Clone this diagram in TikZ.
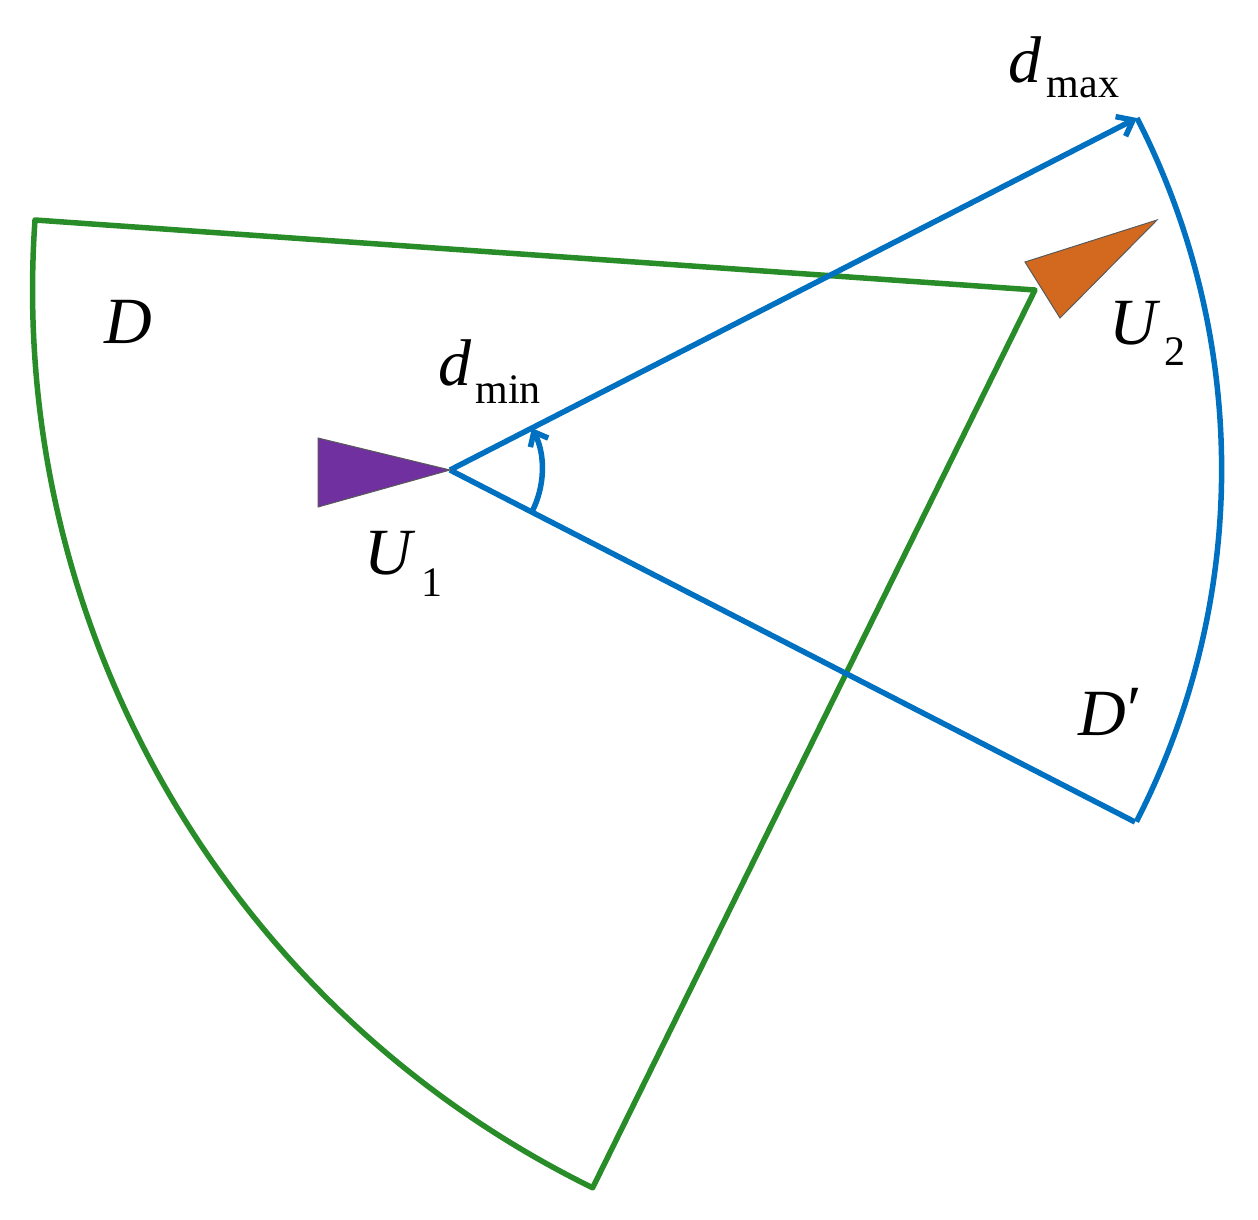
\documentclass[tikz,border=0pt]{standalone}
\usepackage{fontspec}
\setmainfont{Liberation Serif}
\usetikzlibrary{arrows.meta}
\definecolor{sectgreen}{RGB}{40,140,40}
\definecolor{sectblue}{RGB}{0,112,192}
\definecolor{uavpurple}{RGB}{112,48,160}
\definecolor{uavorange}{RGB}{210,105,30}
\tikzset{
  lbl/.style={font=\fontsize{66}{66}\selectfont\itshape},
  sub/.style={font=\fontsize{42}{42}\selectfont},
}
\begin{document}
\begin{tikzpicture}[x=1pt,y=1pt,yscale=-1,xscale=1]
\useasboundingbox (0,0) rectangle (1258,1219);

% sector D
\coordinate (Dapex) at (1035,290);
\draw [sectgreen, line width=5.5pt, line join=round] (Dapex) -- (35,220) arc [start angle=-176, end angle=-243.9, radius=1000] -- cycle;

% sector D'
\coordinate (Uone) at (450,470);
\coordinate (Dtop) at (1137,118);
\coordinate (Dbot) at (1135,822);
\draw [sectblue, line width=5.5pt] (Dbot) -- (Uone);
\draw [sectblue, line width=5.5pt, -{Straight Barb[length=14pt,width=22pt]}] (Uone) -- (Dtop);
\draw [sectblue, line width=5.5pt] (Dtop) arc [start angle=-27.1, end angle=27.2, radius=771];
% angle arc
\draw [sectblue, line width=5.5pt, -{Straight Barb[length=12pt,width=20pt]}] ([shift={(27.2:92)}]Uone) arc [start angle=27.2, end angle=-27.1, radius=92];

% UAVs
\draw [fill=uavpurple, draw=gray!70!black, line width=1pt] (318,438) -- (450,470) -- (318,507) -- cycle;
\draw [fill=uavorange, draw=gray!70!black, line width=1pt] (1025,262) -- (1157,220) -- (1060,318) -- cycle;

% labels
\node [lbl] (labD) at (128,322) {D};
\node [lbl] (labDp) at (1108,712) {D\kern-3pt\raisebox{4pt}{′}};
\node [lbl] (labU1) at (388,553) {U};
\node [sub] (labU1s) at (432,583) {1};
\node [lbl] (labU2) at (1133,323) {U};
\node [sub] (labU2s) at (1175,352) {2};
\node [lbl] (labdmin) at (455,363) {d};
\node [sub] (labdmins) at (508,390) {min};
\node [lbl] (labdmax) at (1025,60) {d};
\node [sub] (labdmaxs) at (1083,88) {max};
\end{tikzpicture}
\end{document}
